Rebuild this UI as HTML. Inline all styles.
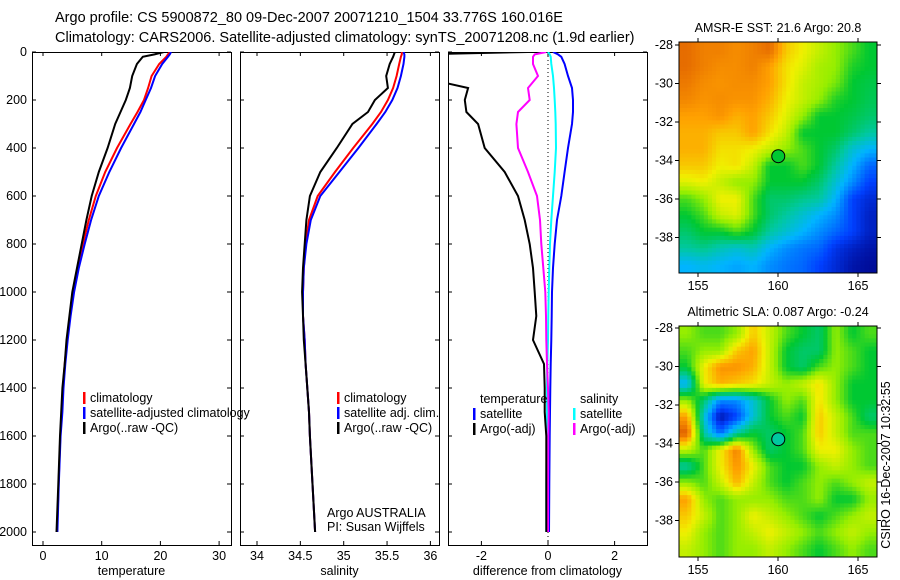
<!DOCTYPE html>
<html><head><meta charset="utf-8"><style>
body{margin:0;background:#fff}
svg{display:block;font-family:"Liberation Sans",sans-serif}
</style></head><body>
<svg id="s" width="900" height="580" xmlns="http://www.w3.org/2000/svg">
<text x="55" y="22" font-size="14.5">Argo profile: CS 5900872_80 09-Dec-2007 20071210_1504 33.776S 160.016E</text>
<text x="55" y="42" font-size="14.5">Climatology: CARS2006. Satellite-adjusted climatology: synTS_20071208.nc (1.9d earlier)</text>
<text x="890" y="465" font-size="12.5" transform="rotate(-90 890 465)" text-anchor="middle">CSIRO 16-Dec-2007 10:32:55</text>
</svg>
<script>
const depths=[0,10,20,50,100,150,200,250,300,400,500,600,700,800,900,1000,1100,1200,1300,1400,1500,1600,1800,2000];
const tempArgo=[20.6,19,17,16,15.2,14.8,14.1,13.2,12.3,11,9.5,8.3,7.4,6.6,5.8,5,4.5,4,3.7,3.3,3.1,2.9,2.6,2.3];
const tempClim=[21.6,21.3,21,19.8,18.5,17.9,17.2,16.1,14.9,12.6,10.6,9,7.8,6.8,5.9,5.1,4.6,4.1,3.7,3.4,3.2,2.95,2.65,2.4];
const tempSat=[21.8,21.6,21.3,20.3,19.1,18.4,17.5,16.6,15.5,13.3,11.3,9.5,8.2,7.1,6.1,5.3,4.7,4.2,3.8,3.5,3.3,3.0,2.7,2.45];
const salArgo=[35.59,35.58,35.57,35.53,35.49,35.51,35.36,35.28,35.1,34.92,34.73,34.61,34.57,34.55,34.53,34.52,34.53,34.54,34.56,34.58,34.6,34.61,34.64,34.67];
const salClim=[35.67,35.67,35.66,35.64,35.61,35.57,35.51,35.43,35.33,35.11,34.9,34.7,34.6,34.56,34.54,34.53,34.53,34.55,34.56,34.58,34.6,34.61,34.64,34.67];
const salSat=[35.69,35.7,35.7,35.69,35.66,35.62,35.56,35.48,35.38,35.17,34.95,34.73,34.62,34.57,34.54,34.53,34.53,34.55,34.56,34.58,34.6,34.61,34.64,34.67];
const dTempArgo=[-0.6,-4,-4,-4,-4,-2.4,-2.5,-2.45,-2.1,-1.9,-1.3,-0.9,-0.7,-0.55,-0.45,-0.4,-0.35,-0.45,-0.12,-0.1,-0.1,-0.05,-0.05,-0.05];
const dTempSat=[0.15,0.3,0.4,0.5,0.6,0.72,0.75,0.75,0.72,0.6,0.5,0.4,0.27,0.2,0.15,0.12,0.11,0.1,0.08,0.07,0.06,0.05,0.04,0.03];
const dSalSat=[0,0.05,0.08,0.1,0.15,0.18,0.2,0.22,0.23,0.24,0.2,0.15,0.1,0.06,0.04,0.02,0.01,0,-0.02,-0.03,-0.03,-0.04,-0.05,-0.05];
const dSalArgo=[-0.05,-0.4,-0.45,-0.45,-0.3,-0.6,-0.55,-0.9,-0.95,-0.9,-0.6,-0.33,-0.24,-0.2,-0.14,-0.08,-0.06,-0.05,-0.03,0,0.02,0.01,0,0];
const depthTicks=[0,200,400,600,800,1000,1200,1400,1600,1800,2000];
const tempTicks=[0,10,20,30];
const salTicks=[34,34.5,35,35.5,36];
const diffTicks=[-2,0,2];
const lonTicks=[155,160,165];
const latTicks=[-28,-30,-32,-34,-36,-38];
const sstGrid=[
[.88,.85,.85,.83,.85,.88,.75,.7,.65,.6,.55,.5],
[.88,.85,.83,.83,.85,.8,.72,.68,.62,.6,.52,.5],
[.86,.83,.82,.83,.83,.8,.72,.65,.62,.58,.5,.48],
[.84,.82,.83,.82,.82,.78,.7,.65,.6,.52,.5,.47],
[.8,.8,.82,.78,.8,.75,.68,.6,.5,.5,.48,.45],
[.78,.78,.75,.75,.8,.72,.65,.5,.5,.5,.45,.4],
[.78,.78,.72,.72,.7,.65,.6,.55,.5,.45,.35,.3],
[.75,.75,.7,.72,.65,.5,.5,.55,.5,.4,.3,.2],
[.68,.7,.65,.6,.6,.5,.5,.5,.45,.35,.25,.15],
[.55,.6,.7,.7,.55,.45,.45,.42,.4,.3,.15,.1],
[.5,.55,.65,.68,.55,.45,.4,.35,.3,.25,.15,.08],
[.45,.5,.5,.55,.5,.4,.35,.3,.25,.2,.15,.08],
[.4,.42,.38,.35,.38,.3,.25,.22,.2,.12,.08,.05],
[.3,.32,.3,.28,.3,.25,.22,.2,.15,.1,.05,.03]];
const slaGrid=[
[.6,.55,.55,.6,.75,.65,.55,.5,.45,.6,.5,.55],
[.55,.6,.6,.75,.8,.65,.5,.45,.45,.6,.55,.5],
[.5,.7,.82,.82,.78,.65,.5,.45,.55,.6,.55,.5],
[.3,.7,.78,.75,.72,.65,.6,.65,.72,.6,.5,.5],
[.6,.45,.25,.25,.35,.5,.6,.55,.72,.6,.5,.5],
[.8,.35,.05,.15,.35,.5,.55,.5,.75,.65,.55,.45],
[.9,.4,.2,.4,.5,.45,.5,.55,.75,.65,.55,.55],
[.65,.55,.7,.85,.6,.45,.5,.55,.7,.7,.6,.55],
[.4,.55,.7,.82,.7,.55,.5,.5,.6,.65,.6,.55],
[.6,.55,.65,.78,.65,.55,.5,.55,.6,.55,.6,.65],
[.8,.6,.55,.6,.6,.6,.55,.55,.6,.5,.5,.6],
[.75,.65,.55,.6,.7,.65,.6,.55,.5,.55,.6,.65],
[.7,.6,.55,.6,.65,.7,.65,.6,.55,.6,.65,.6],
[.65,.6,.55,.6,.6,.65,.6,.55,.5,.55,.6,.55]];
const argoLon=160.016, argoLat=-33.776;
const sstArgoVal=0.5, slaArgoVal=0.4;

const NS="http://www.w3.org/2000/svg";
const svg=document.getElementById('s');
function el(t,a,p){const e=document.createElementNS(NS,t);for(const k in a)e.setAttribute(k,a[k]);(p||svg).appendChild(e);return e;}
function txt(x,y,s,a,p){const e=el('text',Object.assign({x:x,y:y,'font-size':12.5},a||{}),p);e.textContent=s;return e;}
const yD=d=>52+0.24*d;
const Y0=52,Y1=545;

function panel(name,x0,x1,xs,ticks,fmt,label,showY){
  const g=el('g',{});
  
  
  const cp=el('clipPath',{id:'c'+name},g);el('rect',{x:x0,y:Y0,width:x1-x0,height:Y1-Y0},cp);
  el('rect',{x:x0+.5,y:Y0+.5,width:x1-x0,height:Y1-Y0,fill:'none',stroke:'#000'},g);
  ticks.forEach(t=>{const x=xs(t);
    el('line',{x1:x,x2:x,y1:Y1,y2:Y1-4,stroke:'#000'},g);el('line',{x1:x,x2:x,y1:Y0,y2:Y0+4,stroke:'#000'},g);
    const l=txt(x,Y1+15,fmt(t),{'text-anchor':'middle'},g);});
  depthTicks.forEach(d=>{const y=yD(d);
    el('line',{x1:x0,x2:x0+4,y1:y,y2:y,stroke:'#000'},g);el('line',{x1:x1-4,x2:x1,y1:y,y2:y,stroke:'#000'},g);
    if(showY){const l=txt(x0-5,y+4,String(d),{'text-anchor':'end'},g);}});
  const xl=txt((x0+x1)/2,Y1+30,label,{'text-anchor':'middle'},g);
  
  return {g:g,clip:'url(#c'+name+')'};
}
function line(p,xs,vals,col,name){
  const pl=el('polyline',{points:vals.map((v,i)=>xs(v).toFixed(1)+','+yD(depths[i]).toFixed(1)).join(' '),fill:'none',stroke:col,'stroke-width':2,'clip-path':p.clip},p.g);
  
}
function legend(p,x,y,items){
  items.forEach((it,i)=>{const yy=y+i*15;
    if(it[1])el('rect',{x:x,y:yy-10,width:2.5,height:12,fill:it[1]},p.g);
    const t=txt(x+7,yy,it[0],{},p.g);});
}
const xT=t=>43+5.87*t;
const p1=panel('temperature-panel',32,231,xT,tempTicks,String,'temperature',true);
line(p1,xT,tempClim,'#f00','temp-climatology-line');line(p1,xT,tempSat,'#00f','temp-satellite-line');line(p1,xT,tempArgo,'#000','temp-argo-line');
legend(p1,83,402,[['climatology','#f00'],['satellite-adjusted climatology','#00f'],['Argo(..raw -QC)','#000']]);
const xS=s=>257+86.7*(s-34);
const p2=panel('salinity-panel',240,439,xS,salTicks,String,'salinity',false);
line(p2,xS,salClim,'#f00','sal-climatology-line');line(p2,xS,salSat,'#00f','sal-satellite-line');line(p2,xS,salArgo,'#000','sal-argo-line');
legend(p2,337,402,[['climatology','#f00'],['satellite adj. clim.','#00f'],['Argo(..raw -QC)','#000']]);
txt(327,517,'Argo AUSTRALIA',{},p2.g);
txt(327,531,'PI: Susan Wijffels',{},p2.g);
const xDf=v=>548+33.3*v;
const p3=panel('difference-panel',448,647,xDf,diffTicks,String,'difference from climatology',false);
el('line',{x1:xDf(0),x2:xDf(0),y1:Y0,y2:Y1,stroke:'#000','stroke-dasharray':'1,3'},p3.g);
line(p3,xDf,dTempSat,'#00f','diff-temp-satellite-line');line(p3,xDf,dSalSat,'#0ff','diff-sal-satellite-line');
line(p3,xDf,dSalArgo,'#f0f','diff-sal-argo-line');line(p3,xDf,dTempArgo,'#000','diff-temp-argo-line');
legend(p3,473,403,[['temperature',null],['satellite','#00f'],['Argo(-adj)','#000']]);
legend(p3,573,403,[['salinity',null],['satellite','#0ff'],['Argo(-adj)','#f0f']]);
const stops=[[0,[0,0,128]],[.15,[0,64,255]],[.3,[0,180,255]],[.4,[0,200,160]],[.5,[0,200,50]],[.6,[150,238,0]],[.7,[240,240,0]],[.8,[255,160,0]],[.9,[224,96,0]],[1,[160,16,0]]];
function cmap(v){v=Math.max(0,Math.min(1,v));for(let i=1;i<stops.length;i++){if(v<=stops[i][0]){const a=stops[i-1],b=stops[i],f=(v-a[0])/(b[0]-a[0]);return 'rgb('+a[1].map((c,k)=>Math.round(c+f*(b[1][k]-c))).join(',')+')';}}return 'rgb(160,16,0)';}
function sample(grid,r,c){const R=grid.length,C=grid[0].length;
  r=Math.max(0,Math.min(R-1,r));c=Math.max(0,Math.min(C-1,c));
  const r0=Math.floor(r),c0=Math.floor(c),r1=Math.min(R-1,r0+1),c1=Math.min(C-1,c0+1),fr=r-r0,fc=c-c0;
  return grid[r0][c0]*(1-fr)*(1-fc)+grid[r0][c1]*(1-fr)*fc+grid[r1][c0]*fr*(1-fc)+grid[r1][c1]*fr*fc;}
function map(name,title,grid,y0,y1,latTop,argoVal){
  const x0=679,x1=877;
  const g=el('g',{});
  const lonX=l=>698+16*(l-155);
  const latY=l=>latTop+((y1-y0)/12)*(-28-l);
  const rows=grid.length,cols=grid[0].length,S=4,cw=(x1-x0)/(cols*S),ch=(y1-y0)/(rows*S);
  for(let i=0;i<rows*S;i++)for(let j=0;j<cols*S;j++){
    const v=sample(grid,(i+0.5)/S-0.5,(j+0.5)/S-0.5);
    el('rect',{x:(x0+j*cw).toFixed(2),y:(y0+i*ch).toFixed(2),width:(cw+.5).toFixed(2),height:(ch+.5).toFixed(2),fill:cmap(v)},g);}
  el('rect',{x:x0,y:y0,width:x1-x0,height:y1-y0,fill:'none',stroke:'#000'},g);
  lonTicks.forEach(l=>{const x=lonX(l);el('line',{x1:x,x2:x,y1:y1,y2:y1+4,stroke:'#000'},g);el('line',{x1:x,x2:x,y1:y0,y2:y0-4,stroke:'#000'},g);txt(x,y1+17,String(l),{'text-anchor':'middle'},g);});
  latTicks.forEach(l=>{const y=latY(l);el('line',{x1:x0-4,x2:x0,y1:y,y2:y,stroke:'#000'},g);el('line',{x1:x1,x2:x1+4,y1:y,y2:y,stroke:'#000'},g);txt(x0-6,y+4,String(l),{'text-anchor':'end'},g);});
  const c=el('circle',{cx:lonX(argoLon),cy:latY(argoLat),r:6.5,fill:cmap(argoVal),stroke:'#000'},g);
  
  txt((x0+x1)/2,y0-10,title,{'text-anchor':'middle'},g);
}
map('sst-map','AMSR-E SST: 21.6 Argo: 20.8',sstGrid,42,273,45,sstArgoVal);
map('sla-map','Altimetric SLA: 0.087 Argo: -0.24',slaGrid,326,557,328,slaArgoVal);
</script>
</body></html>
